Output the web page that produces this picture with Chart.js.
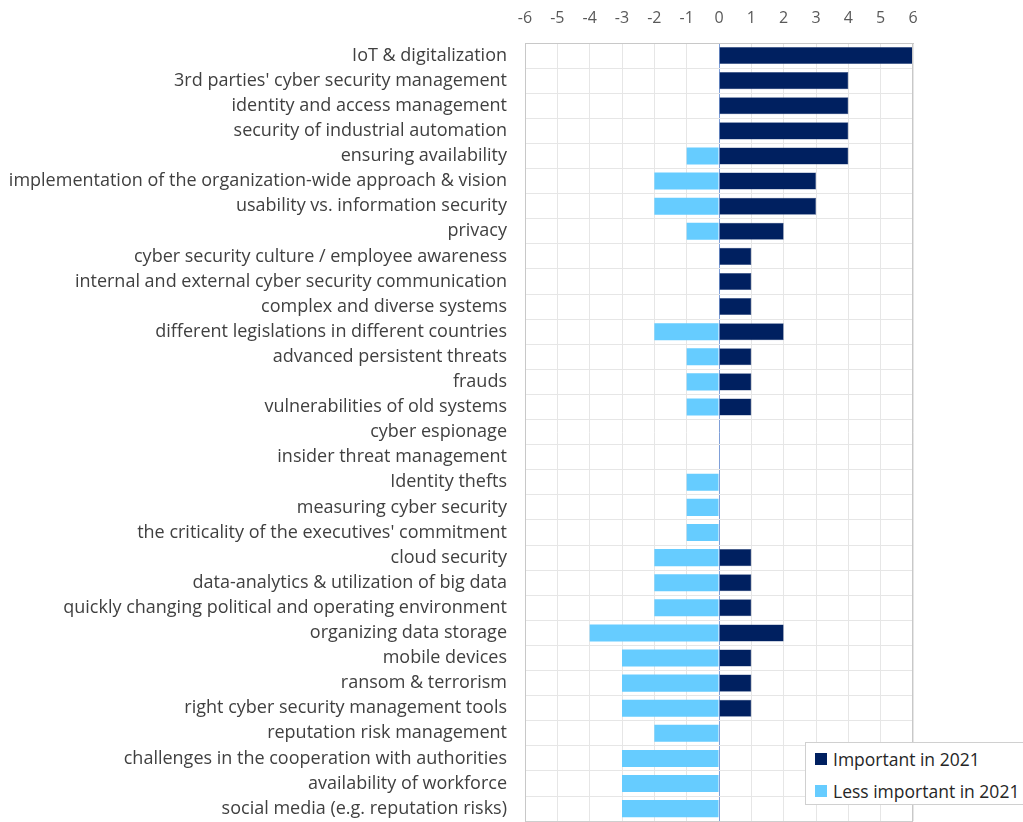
<!DOCTYPE html>
<html>
<head>
<meta charset="utf-8">
<script src="https://cdn.jsdelivr.net/npm/chart.js@4.4.0/dist/chart.umd.min.js"></script>
<style>
  html, body { margin: 0; padding: 0; background: #fff; }
  #wrap { position: relative; width: 1023px; height: 822px; overflow: hidden; }
  canvas { display: block; }
  #legend {
    position: absolute; left: 805px; top: 742px; width: 222px; height: 63px;
    border: 1px solid #d0d0d0; background: #fff; box-sizing: border-box;
    font-family: "Open Sans", sans-serif; font-size: 17.5px; color: #262626;
    padding: 0 0 0 9px;
  }
  .item { display: flex; align-items: center; height: 32px; }
  .sw { width: 12px; height: 12px; margin-right: 6px; }
</style>
</head>
<body>
<div id="wrap">
  <canvas id="chart" width="1023" height="850"></canvas>
  <div id="legend">
    <div class="item"><span class="sw" style="background:#002060"></span>Important in 2021</div>
    <div class="item"><span class="sw" style="background:#66ccff"></span>Less important in 2021</div>
  </div>
</div>
<script>
// categories, top to bottom
const categories = [
  "IoT & digitalization",
  "3rd parties' cyber security management",
  "identity and access management",
  "security of industrial automation",
  "ensuring availability",
  "implementation of the organization-wide approach & vision",
  "usability vs. information security",
  "privacy",
  "cyber security culture / employee awareness",
  "internal and external cyber security communication",
  "complex and diverse systems",
  "different legislations in different countries",
  "advanced persistent threats",
  "frauds",
  "vulnerabilities of old systems",
  "cyber espionage",
  "insider threat management",
  "Identity thefts",
  "measuring cyber security",
  "the criticality of the executives' commitment",
  "cloud security",
  "data-analytics & utilization of big data",
  "quickly changing political and operating environment",
  "organizing data storage",
  "mobile devices",
  "ransom & terrorism",
  "right cyber security management tools",
  "reputation risk management",
  "challenges in the cooperation with authorities",
  "availability of workforce",
  "social media (e.g. reputation risks)"
];

const important = [6, 4, 4, 4, 4, 3, 3, 2, 1, 1, 1, 2, 1, 1, 1, 0, 0, 0, 0, 0, 1, 1, 1, 2, 1, 1, 1, 0, 0, 0, 0];
const lessImportant = [0, 0, 0, 0, -1, -2, -2, -1, 0, 0, 0, -2, -1, -1, -1, 0, 0, -1, -1, -1, -2, -2, -2, -4, -3, -3, -3, -2, -3, -3, -3];

const xTicks = [-6, -5, -4, -3, -2, -1, 0, 1, 2, 3, 4, 5, 6];

const ctx = document.getElementById('chart').getContext('2d');
new Chart(ctx, {
  type: 'bar',
  data: {
    labels: categories,
    datasets: [
      {
        label: 'Important in 2021',
        data: important,
        backgroundColor: '#002060',
        borderColor: '#2f4a80',
        borderWidth: 0.5,
        stack: 's'
      },
      {
        label: 'Less important in 2021',
        data: lessImportant,
        backgroundColor: '#66ccff',
        borderWidth: 0,
        stack: 's'
      }
    ]
  },
  options: {
    indexAxis: 'y',
    responsive: false,
    animation: false,
    maintainAspectRatio: false,
    layout: { padding: { left: 0, right: 110, top: 0, bottom: 0 } },
    datasets: { bar: { categoryPercentage: 0.68, barPercentage: 1 } },
    plugins: {
      legend: { display: false },
      tooltip: { enabled: false }
    },
    scales: {
      x: {
        position: 'top',
        stacked: true,
        min: -6,
        max: 6,
        afterBuildTicks: (s) => { s.ticks = xTicks.map(v => ({ value: v })); },
        afterFit: (s) => { s.height = 43; },
        ticks: {
          color: '#595959',
          font: { family: 'Open Sans', size: 16 },
          padding: 15
        },
        grid: {
          color: (c) => c.tick && c.tick.value === 0 ? '#7f9fd8' : '#e6e6e6',
          lineWidth: 1,
          drawTicks: false
        },
        border: { display: true, color: '#c8c8c8' }
      },
      y: {
        stacked: true,
        afterFit: (s) => { s.width = 525; },
        ticks: {
          color: '#404040',
          font: { family: 'Open Sans', size: 18 },
          padding: 18,
          autoSkip: false
        },
        grid: { color: '#e6e6e6', drawTicks: false, offset: true },
        border: { display: true, color: '#c8c8c8' }
      }
    }
  },
  plugins: [{
    id: 'frame',
    afterDraw(chart) {
      const a = chart.chartArea, c = chart.ctx;
      c.save();
      c.strokeStyle = '#c8c8c8';
      c.lineWidth = 1;
      c.strokeRect(a.left + 0.5, a.top + 0.5, a.right - a.left - 1, a.bottom - a.top);
      c.restore();
    }
  }]
});
</script>
</body>
</html>
